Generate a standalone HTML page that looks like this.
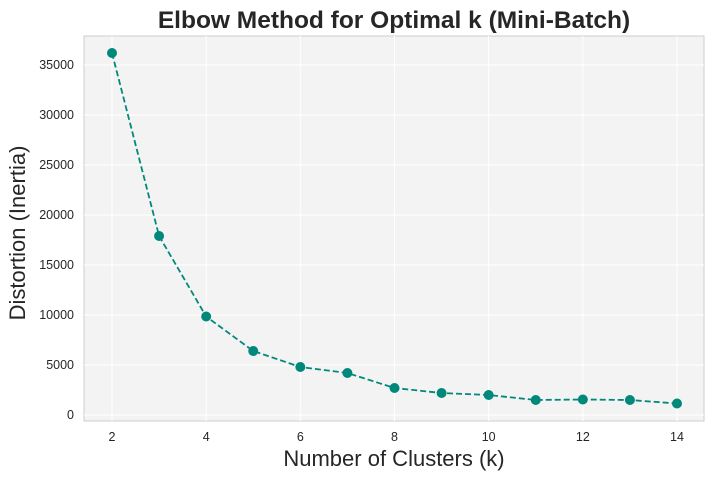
<!DOCTYPE html>
<html><head><meta charset="utf-8"><style>
body{margin:0;background:#fff;}
svg{display:block;font-family:"Liberation Sans",sans-serif;}
</style></head><body>
<svg id="chart" width="714" height="478">
<rect x="84" y="36" width="620" height="385" fill="#f3f3f3" stroke="#cccccc"/>
<g id="grid"></g><g id="ticks"></g>
<path id="line" fill="none" stroke="#00897b" stroke-width="1.8" stroke-dasharray="6,3"/>
<g id="pts"></g>
<text x="394" y="28" text-anchor="middle" font-size="24.5" font-weight="bold" fill="#262626">Elbow Method for Optimal k (Mini-Batch)</text>
<text x="394" y="466" text-anchor="middle" font-size="22" fill="#262626">Number of Clusters (k)</text>
<text transform="translate(25,233) rotate(-90)" text-anchor="middle" font-size="22" fill="#262626">Distortion (Inertia)</text>
</svg>
<script>
const ks=[2,3,4,5,6,7,8,9,10,11,12,13,14];
const inertia=[36200,17900,9850,6400,4800,4200,2700,2200,2000,1500,1550,1500,1150];
const xTicks=[2,4,6,8,10,12,14];
const yTicks=[0,5000,10000,15000,20000,25000,30000,35000];
const NS="http://www.w3.org/2000/svg";
const X=v=>112+(v-2)*(677-112)/12;
const Y=v=>415-v*0.01;
const grid=document.getElementById('grid'),ticks=document.getElementById('ticks'),pts=document.getElementById('pts');
function mk(tag,attrs,parent){const e=document.createElementNS(NS,tag);for(const k in attrs)e.setAttribute(k,attrs[k]);parent.appendChild(e);return e;}
xTicks.forEach(t=>{
 const l=mk('line',{x1:X(t),x2:X(t),y1:36,y2:421,stroke:'#fff','stroke-width':1},grid);
 
 
 const s=mk('text',{x:X(t),y:441,'text-anchor':'middle','font-size':12.5,fill:'#262626'},ticks);
 s.textContent=t;
 
 
});
yTicks.forEach(t=>{
 const l=mk('line',{x1:84,x2:704,y1:Y(t),y2:Y(t),stroke:'#fff','stroke-width':1},grid);
 
 
 const s=mk('text',{x:74,y:Y(t)+4,'text-anchor':'end','font-size':12.5,fill:'#262626'},ticks);
 s.textContent=t;
 
 
});
document.getElementById('line').setAttribute('d',ks.map((k,i)=>(i?'L':'M')+X(k)+','+Y(inertia[i])).join(''));
ks.forEach((k,i)=>{
 const c=mk('circle',{cx:X(k),cy:Y(inertia[i]),r:5,fill:'#00897b'},pts);
 
 
});
</script>
</body></html>
